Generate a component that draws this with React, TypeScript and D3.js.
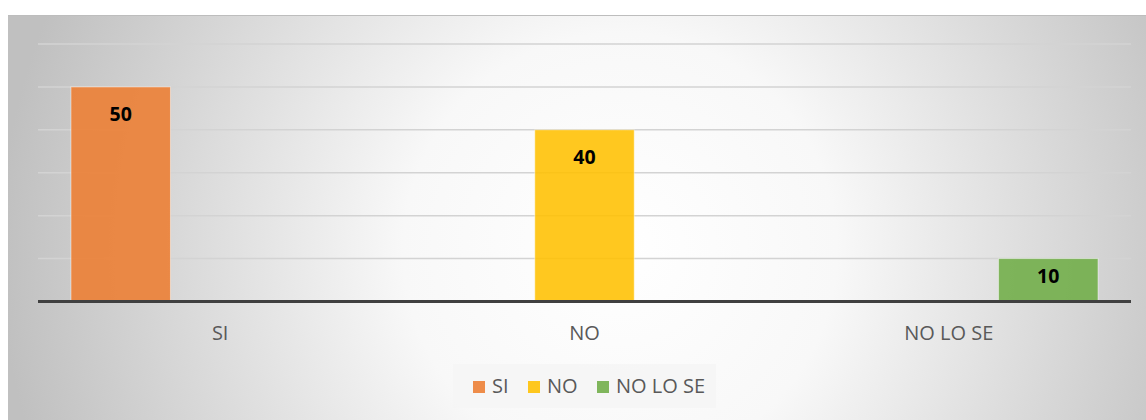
import React from "react";
import * as d3 from "d3";

const categories = ["SI", "NO", "NO LO SE"];
const seriesNames = ["SI", "NO", "NO LO SE"];
const seriesColors = ["#ED7D31", "#FFC000", "#70AD47"];
// values[series][category]
const seriesValues = [
  [50, null, null],
  [null, 40, null],
  [null, null, 10],
];
const yTicks = [0, 10, 20, 30, 40, 50, 60];

const W = 1146;
const H = 420;
const plot = { left: 38, right: 1131, top: 44, bottom: 301.5 };

export default function App() {
  const x0 = d3
    .scaleBand<string>()
    .domain(categories)
    .range([plot.left, plot.right])
    .paddingInner(0)
    .paddingOuter(0);
  const groupPad = 33;
  const x1 = d3
    .scaleBand<string>()
    .domain(seriesNames)
    .range([groupPad, x0.bandwidth() - groupPad])
    .padding(0);
  const y = d3.scaleLinear().domain([0, 60]).range([plot.bottom, plot.top]);

  const font = "'Open Sans', 'Liberation Sans', sans-serif";

  const legendItems = seriesNames.map((s, i) => ({ s, c: seriesColors[i] }));
  const legendX = [473, 528, 597];

  return (
    <svg
      width={W}
      height={H}
      style={{ position: "absolute", left: 0, top: 0 }}
    >
      <defs>
        <radialGradient
          id="bg"
          gradientUnits="userSpaceOnUse"
          cx={620}
          cy={250}
          r={620}
        >
          <stop offset="0" stopColor="#ffffff" />
          <stop offset="0.35" stopColor="#f8f8f8" />
          <stop offset="1" stopColor="#c0c0c0" />
        </radialGradient>
      </defs>
      <rect x={0} y={0} width={W} height={H} fill="#ffffff" />
      <rect x={8} y={15} width={W - 8} height={H - 15} fill="url(#bg)" />
      <line x1={8} x2={W} y1={15.5} y2={15.5} stroke="#bdbdbd" strokeWidth={1} />

      {yTicks
        .filter((t) => t > 0)
        .map((t) => (
          <line
            key={t}
            x1={plot.left}
            x2={plot.right}
            y1={y(t)}
            y2={y(t)}
            stroke="#d3d3d3"
            strokeWidth={1.5}
          />
        ))}

      {seriesValues.map((vals, si) =>
        vals.map((v, ci) => {
          if (v == null) return null;
          const bh = y(0) - y(v);
          const off = Math.min(34.5, bh - 18.5);
          return (
            <g key={`${si}-${ci}`}>
              <rect
                x={(x0(categories[ci]) as number) + (x1(seriesNames[si]) as number)}
                y={y(v)}
                width={x1.bandwidth()}
                height={bh}
                fill={seriesColors[si]}
                fillOpacity={0.88}
                stroke="#ffffff"
                strokeOpacity={0.45}
                strokeWidth={1}
              />
              <text
                x={
                  (x0(categories[ci]) as number) +
                  (x1(seriesNames[si]) as number) +
                  x1.bandwidth() / 2
                }
                y={y(v) + off}
                textAnchor="middle"
                fontFamily={font}
                fontWeight="bold"
                fontSize={19.5}
                fill="#000000"
              >
                {v}
              </text>
            </g>
          );
        })
      )}

      <line
        x1={plot.left}
        x2={plot.right}
        y1={y(0)}
        y2={y(0)}
        stroke="#404040"
        strokeWidth={3}
      />

      {categories.map((c) => (
        <text
          key={c}
          x={(x0(c) as number) + x0.bandwidth() / 2}
          y={340}
          textAnchor="middle"
          fontFamily={font}
          fontSize={20}
          fill="#595959"
        >
          {c}
        </text>
      ))}

      <rect x={453} y={364} width={263} height={44} fill="#f5f5f5" fillOpacity={0.8} />
      {legendItems.map((it, i) => (
        <g key={it.s}>
          <rect
            x={legendX[i]}
            y={381}
            width={12}
            height={12}
            fill={it.c}
            fillOpacity={0.88}
          />
          <text
            x={legendX[i] + 19}
            y={393}
            fontFamily={font}
            fontSize={20}
            fill="#595959"
          >
            {it.s}
          </text>
        </g>
      ))}
    </svg>
  );
}
